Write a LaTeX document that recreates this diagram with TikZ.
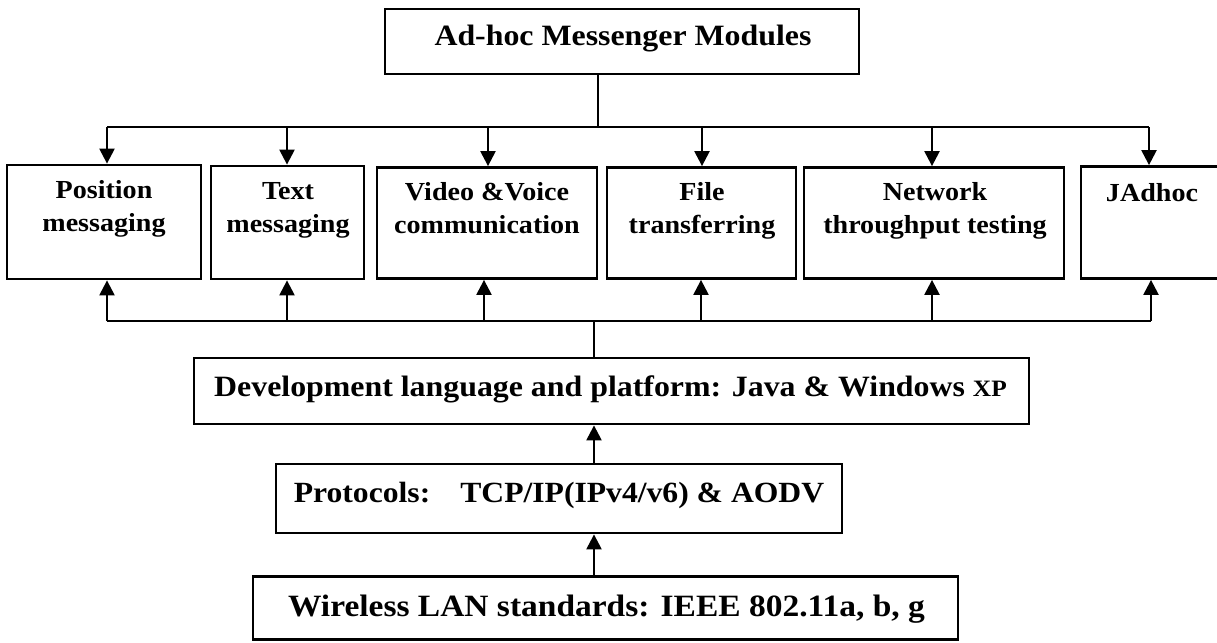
\documentclass[tikz,border=0pt]{standalone}
\usepackage{fontspec}
\setmainfont{Liberation Serif}[FakeStretch=1.08]
\usetikzlibrary{arrows.meta,calc}
\tikzset{
  box/.style={draw=black, line width=2.8pt, rectangle, inner sep=0pt, fill=none},
  conn/.style={draw=black, line width=2.3pt},
  arr/.style={conn, -{Triangle[length=15pt,width=15pt]}},
  modtxt/.style={anchor=base, inner sep=0pt, align=center, font=\bfseries\fontsize{26}{32.5}\selectfont},
  bigtxt/.style={anchor=base, inner sep=0pt, font=\bfseries\fontsize{29.5}{34}\selectfont},
}
\begin{document}
\begin{tikzpicture}[x=1pt,y=-1pt]
\clip (0,0) rectangle (1217,642);
\fill[white] (0,0) rectangle (1217,642);
% top box
\node[box, minimum width=474pt, minimum height=65pt] (top) at (622,41.5) {};
\node[bigtxt] (topT) at (623,46) {Ad-hoc Messenger Modules};
% module boxes
\node[box, minimum width=194pt, minimum height=114pt] (pos) at (104,222) {};
\node[box, minimum width=153pt, minimum height=113pt] (txt) at (287.5,222.5) {};
\node[box, minimum width=220pt, minimum height=111pt] (vid) at (487,223) {};
\node[box, minimum width=189pt, minimum height=111pt] (fil) at (701.5,223) {};
\node[box, minimum width=260pt, minimum height=111pt] (net) at (934,223) {};
\node[box, minimum width=144pt, minimum height=112pt] (jad) at (1153,222.5) {};
\node[modtxt] (posT) at (104,231) {Position\\messaging};
\node[modtxt] (txtT) at (288,232) {Text\\messaging};
\node[modtxt] (vidT) at (487,233) {Video \&Voice\\communication};
\node[modtxt] (filT) at (702,233) {File\\transferring};
\node[modtxt] (netT) at (935,233) {Network\\throughput testing};
\node[modtxt] (jadT) at (1152,201) {JAdhoc};
% lower boxes
\node[box, minimum width=835pt, minimum height=66pt] (dev) at (611.5,391) {};
\node[bigtxt] (devT) at (610.5,396) {Development language and platform: Java \& Windows {\fontsize{23.5}{28}\selectfont XP}};
\node[box, minimum width=566pt, minimum height=69pt] (prot) at (559,498.5) {};
\node[bigtxt, font=\bfseries\fontsize{29.3}{34}\selectfont] (protT) at (559,502) {Protocols:\hspace{30pt}TCP/IP(IPv4/v6) \& AODV};
\node[box, minimum width=705pt, minimum height=63pt] (wl) at (605.5,608) {};
\node[bigtxt, font=\bfseries\fontsize{31}{36}\selectfont] (wlT) at (606.5,616) {Wireless LAN standards: IEEE 802.11a, b, g};
% top bus
\coordinate (tb0) at (598,127);
\coordinate (tb1) at (107,127);
\coordinate (tb2) at (287,127);
\coordinate (tb3) at (488,127);
\coordinate (tb4) at (702,127);
\coordinate (tb5) at (932,127);
\coordinate (tb6) at (1149,127);
\draw[conn] (tb0 |- top.south) -- (tb0);
\draw[conn] (tb1) -- (tb6);
\draw[arr] (tb1) -- (tb1 |- pos.north);
\draw[arr] (tb2) -- (tb2 |- txt.north);
\draw[arr] (tb3) -- (tb3 |- vid.north);
\draw[arr] (tb4) -- (tb4 |- fil.north);
\draw[arr] (tb5) -- (tb5 |- net.north);
\draw[arr] (tb6) -- (tb6 |- jad.north);
% bottom bus
\coordinate (bb0) at (594,321);
\coordinate (bb1) at (107,321);
\coordinate (bb2) at (287,321);
\coordinate (bb3) at (484,321);
\coordinate (bb4) at (701,321);
\coordinate (bb5) at (932,321);
\coordinate (bb6) at (1151,321);
\draw[conn] (bb0 |- dev.north) -- (bb0);
\draw[conn] (bb1) -- (bb6);
\draw[arr] (bb1) -- (bb1 |- pos.south);
\draw[arr] (bb2) -- (bb2 |- txt.south);
\draw[arr] (bb3) -- (bb3 |- vid.south);
\draw[arr] (bb4) -- (bb4 |- fil.south);
\draw[arr] (bb5) -- (bb5 |- net.south);
\draw[arr] (bb6) -- (bb6 |- jad.south);
% stack arrows
\draw[arr] (bb0 |- prot.north) -- (bb0 |- dev.south);
\draw[arr] (bb0 |- wl.north) -- (bb0 |- prot.south);
\end{tikzpicture}
\end{document}
